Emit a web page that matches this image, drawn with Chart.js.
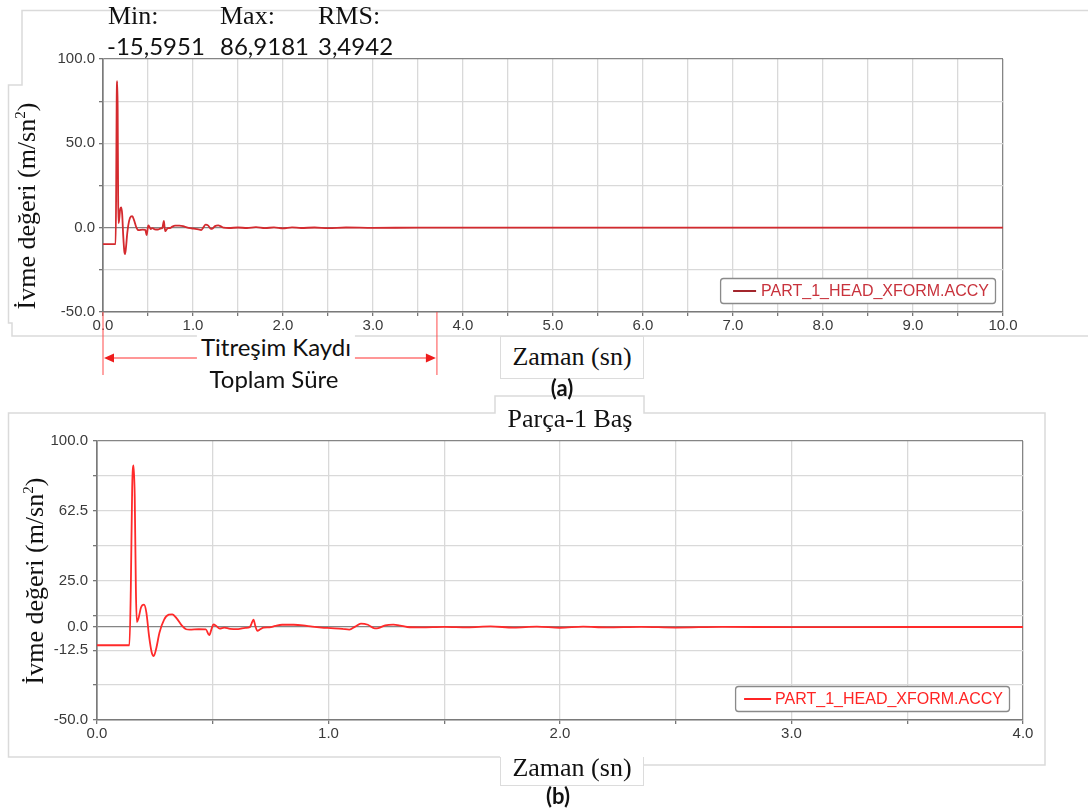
<!DOCTYPE html>
<html>
<head>
<meta charset="utf-8">
<script src="https://cdn.jsdelivr.net/npm/chart.js@4/dist/chart.umd.min.js"></script>
<style>
  html, body { margin: 0; padding: 0; background: #fff; }
  #page { position: relative; width: 1088px; height: 812px; overflow: hidden; background: #fff; }
  canvas { position: absolute; left: 0; }
  #cA { top: 0; }
  #cB { top: 395px; }
  .t { position: absolute; white-space: nowrap; color: #111; }
  .serif { font-family: "Liberation Serif", "Times New Roman", serif; font-size: 26px; }
  .sans { font-family: Lato, "Open Sans", sans-serif; font-size: 24px; }
  .box { position: absolute; background: #fff; border: 1.5px solid #dcdcdc; box-sizing: border-box; }
  .ytitle { position: absolute; white-space: nowrap; transform: translate(-50%, -50%) rotate(-90deg);
            font-family: "Liberation Serif", "Times New Roman", serif; font-size: 26px; color: #111; }
  sup { font-size: 15px; vertical-align: 10px; line-height: 0; }
</style>
</head>
<body>
<div id="page">
  <!-- panel frames -->
  <svg width="1088" height="812" style="position:absolute;left:0;top:0">
    <g fill="none" stroke="#dadada" stroke-width="1.5">
      <polyline points="1088,10.5 22,10.5 22,85 8.5,85 8.5,323 12,323 12,336 1088,336"/>
      <polyline points="500,757 8.5,757 8.5,413 495,413 495,396 644,396 644,413 1045,413 1045,765 644,765"/>
    </g>
  </svg>

  <canvas id="cA" width="1088" height="400"></canvas>
  <canvas id="cB" width="1088" height="417"></canvas>

  <!-- statistics header -->
  <div class="t serif" style="left:108px;top:1px">Min:</div>
  <div class="t serif" style="left:220px;top:1px">Max:</div>
  <div class="t serif" style="left:318px;top:1px">RMS:</div>
  <div class="t sans" style="left:107px;top:31px">-15,5951</div>
  <div class="t sans" style="left:220px;top:31px">86,9181</div>
  <div class="t sans" style="left:318px;top:31px">3,4942</div>

  <div class="ytitle" style="left:27px;top:206px">İvme değeri (m/sn<sup>2</sup>)</div>
  <div class="ytitle" style="left:35px;top:581px">İvme değeri (m/sn<sup>2</sup>)</div>

  <!-- record span caption -->
  <div class="t sans" style="left:276px;top:332px;transform:translateX(-50%);background:#fff;padding:0 4px">Titreşim Kaydı</div>
  <div class="t sans" style="left:274px;top:364px;transform:translateX(-50%)">Toplam Süre</div>

  <!-- axis titles and panel captions -->
  <div class="box" style="left:500px;top:336px;width:144px;height:43px"></div>
  <div class="t serif" style="left:572px;top:342px;transform:translateX(-50%)">Zaman (sn)</div>
  <div class="t sans" style="left:562px;top:374px;transform:translateX(-50%);font-weight:bold;font-size:22px">(a)</div>

  <div class="t serif" style="left:570px;top:404px;transform:translateX(-50%)">Parça-1 Baş</div>

  <div class="box" style="left:500px;top:757px;width:144px;height:29px;border-top:none"></div>
  <div class="t serif" style="left:572px;top:753px;transform:translateX(-50%)">Zaman (sn)</div>
  <div class="t sans" style="left:558px;top:782px;transform:translateX(-50%);font-weight:bold;font-size:22px">(b)</div>
</div>

<script>
// Head acceleration (m/sn²) against time (sn)
const times = [0, 0.140, 0.146, 0.152, 0.158, 0.163, 0.168, 0.172, 0.180, 0.190, 0.203, 0.213, 0.225, 0.237, 0.245,
  0.255, 0.270, 0.290, 0.310, 0.325, 0.345, 0.365, 0.385, 0.400, 0.440, 0.470, 0.485, 0.495, 0.503, 0.515,
  0.530, 0.550, 0.575, 0.610, 0.640, 0.660, 0.668, 0.676, 0.684, 0.693, 0.705, 0.720, 0.745, 0.770, 0.800,
  0.850, 0.890, 0.930, 0.970, 1.010, 1.060, 1.090, 1.115, 1.140, 1.170, 1.200, 1.215, 1.245, 1.280, 1.310,
  1.340, 1.40, 1.50, 1.60, 1.70, 1.80, 1.90, 2.00, 2.10, 2.20, 2.35, 2.50, 2.70, 3.00, 3.50, 4.00, 5.00, 10.00];
const accel = [-9.8, -9.8, 20, 75, 86.9, 70, 20, 2.7, 5, 10.5, 12, 8, -5, -14, -15.6,
  -12, -3, 4, 6.6, 6.8, 4.5, 1, -1.2, -1.4, -1.2, -1.3, -4.4, -1, 1.4, 0.6,
  -0.8, -0.3, -1.0, -1.1, -0.5, -0.1, 2, 4.0, 0.5, -2.1, -1.2, -0.3, -0.2, 0.6, 1.2,
  1.2, 0.9, 0.2, -0.3, -0.6, -1.0, -1.4, 0.2, 1.8, 1.2, -0.7, -0.6, 0.9, 1.3, 0.8,
  0, -0.2, 0.1, -0.2, 0.3, -0.3, 0.2, -0.4, 0.2, -0.2, 0.1, -0.3, 0.1, -0.1, 0, 0, 0, 0];

const seriesName = 'PART_1_HEAD_XFORM.ACCY';

// panel (a): full 10 s record
const xGridA = [0, 0.5, 1, 1.5, 2, 2.5, 3, 3.5, 4, 4.5, 5, 5.5, 6, 6.5, 7, 7.5, 8, 8.5, 9, 9.5, 10];
const xLabelA = [0, 1, 2, 3, 4, 5, 6, 7, 8, 9, 10];
const yGridA = [-50, -25, 0, 25, 50, 75, 100];
const yLabelA = [-50, 0, 50, 100];
const recordSpan = [0, 3.71];

// panel (b): first 4 s
const xGridB = [0, 0.5, 1, 1.5, 2, 2.5, 3, 3.5, 4];
const xLabelB = [0, 1, 2, 3, 4];
const yGridB = [-50, -31.25, -12.5, 0, 6.25, 25, 43.75, 62.5, 81.25, 100];
const yLabelB = [-50, -12.5, 0, 25, 62.5, 100];

const points = times.map((t, i) => ({ x: t, y: accel[i] }));

Chart.defaults.font.family = '"Liberation Sans", Arial, sans-serif';
Chart.defaults.font.size = 15;
Chart.defaults.color = '#3a3a3a';

// legend box drawn inside the plot, bottom-right
const insetLegend = {
  id: 'insetLegend',
  afterDraw(chart, args, opts) {
    const { ctx, chartArea } = chart;
    const ds = chart.data.datasets[0];
    ctx.save();
    ctx.font = '16px "Liberation Sans", Arial, sans-serif';
    const tw = ctx.measureText(ds.label).width;
    const w = opts.lead + opts.sample + opts.gap + tw + opts.tail;
    const h = 25;
    const right = chartArea.right - opts.dx;
    const bottom = chartArea.bottom - opts.dy;
    const left = right - w, top = bottom - h;
    ctx.beginPath();
    ctx.roundRect(left + 0.5, top + 0.5, w, h, 3);
    ctx.fillStyle = '#fff';
    ctx.fill();
    ctx.strokeStyle = '#8a8a8a';
    ctx.lineWidth = 1.3;
    ctx.stroke();
    const cy = top + h / 2 + 0.5;
    ctx.beginPath();
    ctx.moveTo(left + opts.lead, cy);
    ctx.lineTo(left + opts.lead + opts.sample, cy);
    ctx.strokeStyle = opts.sampleColor;
    ctx.lineWidth = 2;
    ctx.stroke();
    ctx.fillStyle = opts.textColor;
    ctx.textBaseline = 'middle';
    ctx.fillText(ds.label, left + opts.lead + opts.sample + opts.gap, cy + 1);
    ctx.restore();
  }
};

// span marker under panel (a) for the total recording time
const spanMarker = {
  id: 'spanMarker',
  afterDraw(chart) {
    const { ctx, chartArea, scales } = chart;
    const x0 = scales.x.getPixelForValue(recordSpan[0]);
    const x1 = scales.x.getPixelForValue(recordSpan[1]);
    const yTop = chartArea.bottom, yEnd = chartArea.bottom + 63, ya = chartArea.bottom + 46;
    const mid = (x0 + x1) / 2;
    ctx.save();
    ctx.strokeStyle = 'rgba(255,70,70,0.75)';
    ctx.lineWidth = 1.3;
    ctx.beginPath();
    ctx.moveTo(x0, yTop); ctx.lineTo(x0, yEnd);
    ctx.moveTo(x1, yTop); ctx.lineTo(x1, yEnd);
    ctx.moveTo(x0 + 8, ya); ctx.lineTo(mid - 70, ya);
    ctx.moveTo(mid + 70, ya); ctx.lineTo(x1 - 8, ya);
    ctx.stroke();
    ctx.fillStyle = '#ee1c1c';
    ctx.beginPath();
    ctx.moveTo(x0 + 1, ya); ctx.lineTo(x0 + 11, ya - 4.5); ctx.lineTo(x0 + 11, ya + 4.5); ctx.closePath();
    ctx.moveTo(x1 - 1, ya); ctx.lineTo(x1 - 11, ya - 4.5); ctx.lineTo(x1 - 11, ya + 4.5); ctx.closePath();
    ctx.fill();
    ctx.restore();
  }
};

function gridColor(max) {
  return ctx => {
    const v = ctx.tick && ctx.tick.value;
    if (v === 0 || v === max) return '#858585';
    return '#d9d9d9';
  };
}

function makeChart(id, o) {
  return new Chart(document.getElementById(id), {
    type: 'line',
    data: {
      datasets: [{
        label: seriesName,
        data: points,
        borderColor: o.lineColor,
        borderWidth: o.lineWidth,
        pointRadius: 0,
        cubicInterpolationMode: 'monotone',
        fill: false
      }]
    },
    options: {
      responsive: false,
      animation: false,
      events: [],
      layout: { padding: o.padding },
      plugins: {
        legend: { display: false },
        tooltip: { enabled: false },
        insetLegend: o.legend
      },
      scales: {
        x: {
          type: 'linear',
          min: o.xGrid[0],
          max: o.xGrid[o.xGrid.length - 1],
          afterBuildTicks: s => { s.ticks = o.xGrid.map(v => ({ value: v })); },
          afterFit: s => { s.height = 40; },
          ticks: {
            autoSkip: false,
            maxRotation: 0,
            padding: 1,
            callback: v => o.xLabel.includes(v) ? v.toFixed(1) : ''
          },
          grid: {
            color: gridColor(o.xGrid[o.xGrid.length - 1]),
            lineWidth: 1.3,
            tickColor: '#777',
            tickLength: 4
          },
          border: { color: '#7a7a7a', width: 1.6 }
        },
        y: {
          type: 'linear',
          min: o.yGrid[0],
          max: o.yGrid[o.yGrid.length - 1],
          afterBuildTicks: s => { s.ticks = o.yGrid.map(v => ({ value: v })); },
          afterFit: s => { s.width = o.yWidth; },
          ticks: {
            autoSkip: false,
            padding: o.yPad,
            callback: v => o.yLabel.includes(v) ? v.toFixed(1) : ''
          },
          grid: {
            color: gridColor(o.yGrid[o.yGrid.length - 1]),
            lineWidth: 1.3,
            tickColor: '#777',
            tickLength: 4
          },
          border: { color: '#7a7a7a', width: 1.6 }
        }
      }
    },
    plugins: o.extra
  });
}

makeChart('cA', {
  xGrid: xGridA, xLabel: xLabelA, yGrid: yGridA, yLabel: yLabelA,
  yWidth: 103, yPad: 4,
  padding: { left: 0, right: 85, top: 59, bottom: 48 },
  lineColor: '#d42a2e', lineWidth: 1.8,
  legend: { dx: 8, dy: 9, lead: 13, sample: 23, gap: 5, tail: 6, sampleColor: '#a3262c', textColor: '#c8323c' },
  extra: [insetLegend, spanMarker]
});

makeChart('cB', {
  xGrid: xGridB, xLabel: xLabelB, yGrid: yGridB, yLabel: yLabelB,
  yWidth: 97, yPad: 5,
  padding: { left: 0, right: 65, top: 46, bottom: 52 },
  lineColor: '#ff2a2a', lineWidth: 1.8,
  legend: { dx: 14, dy: 9, lead: 9, sample: 27, gap: 4, tail: 6, sampleColor: '#ff2424', textColor: '#ff2424' },
  extra: [insetLegend]
});
</script>
</body>
</html>
